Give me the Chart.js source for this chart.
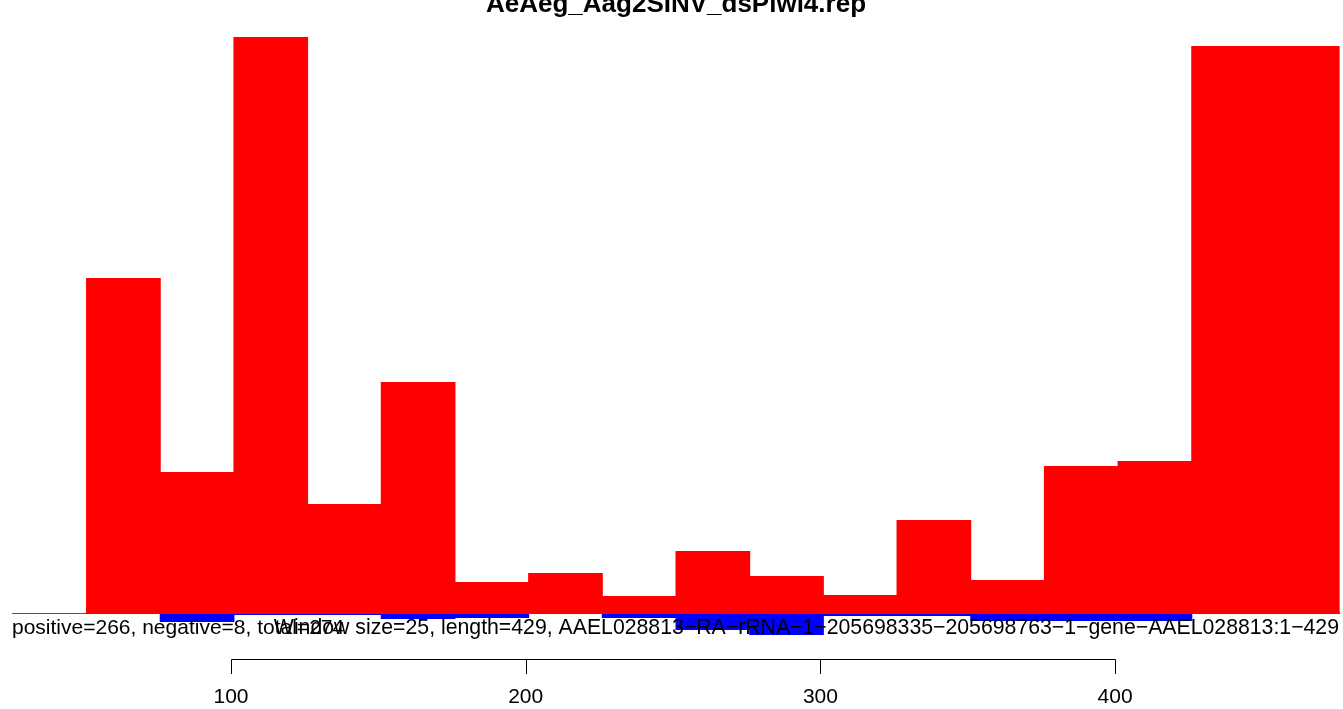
<!DOCTYPE html>
<html>
<head>
<meta charset="utf-8">
<title>AeAeg_Aag2SINV_dsPiwi4.rep</title>
<script src="https://cdn.jsdelivr.net/npm/chart.js@4"></script>
<style>
  html, body { margin: 0; padding: 0; background: #ffffff; }
  canvas { display: block; }
</style>
</head>
<body>
<canvas id="coverageChart" width="1343" height="709"></canvas>
<script>
// Dữ liệu (cửa sổ 25 nt, bắt đầu tại vị trí 51)
const binStarts = [51, 76, 101, 126, 151, 176, 201, 226, 251, 276, 301, 326, 351, 376, 401, 426, 451];
const binSize = 25;
const positiveCounts = [334, 140, 576, 108, 230, 30, 39, 16, 61, 36, 17, 92, 32, 146, 151, 566, 566];
const negativeCounts = [0, -8, -1, -1, -5, -4, 0, -4, -16, -21, -2, -2, -7, -7, -7, 0, 0];
const xTicks = [100, 200, 300, 400];

const chartTitle = "AeAeg_Aag2SINV_dsPiwi4.rep";
const summaryText = "positive=266, negative=8, total=274";
const infoText = "Window size=25, length=429, AAEL028813\u2212RA\u2212rRNA\u22121\u2212205698335\u2212205698763\u22121\u2212gene\u2212AAEL028813:1\u2212429";

const FONT = '"Liberation Sans", Arial, Helvetica, sans-serif';

document.addEventListener("DOMContentLoaded", function () {
  const canvas = document.getElementById("coverageChart");

  // Đường 0, trục x kiểu R và các dòng chữ
  const rStylePlugin = {
    id: "rStyle",
    beforeDatasetsDraw(chart) {
      const ctx = chart.ctx;
      const area = chart.chartArea;
      const y0 = Math.round(chart.scales.y.getPixelForValue(0)) + 0.5;
      ctx.save();
      ctx.strokeStyle = "#555555";
      ctx.lineWidth = 1;
      ctx.beginPath();
      ctx.moveTo(area.left, y0);
      ctx.lineTo(area.right, y0);
      ctx.stroke();
      ctx.restore();
    },
    afterDraw(chart) {
      const ctx = chart.ctx;
      const xs = chart.scales.x;
      ctx.save();

      // tiêu đề
      ctx.fillStyle = "#000000";
      ctx.font = "bold 26px " + FONT;
      ctx.textAlign = "center";
      ctx.textBaseline = "alphabetic";
      ctx.fillText(chartTitle, 676, 12);

      // trục x
      const axisY = 659.5;
      const first = Math.round(xs.getPixelForValue(xTicks[0])) + 0.5;
      const last = Math.round(xs.getPixelForValue(xTicks[xTicks.length - 1])) + 0.5;
      ctx.strokeStyle = "#000000";
      ctx.lineWidth = 1;
      ctx.beginPath();
      ctx.moveTo(first, axisY);
      ctx.lineTo(last, axisY);
      xTicks.forEach(function (t) {
        const px = Math.round(xs.getPixelForValue(t)) + 0.5;
        ctx.moveTo(px, axisY);
        ctx.lineTo(px, 674);
      });
      ctx.stroke();

      ctx.font = "21px " + FONT;
      xTicks.forEach(function (t) {
        ctx.fillText(String(t), xs.getPixelForValue(t), 703);
      });

      // dòng chữ dưới đường 0 (chồng lên nhau như bản gốc)
      ctx.textAlign = "left";
      ctx.fillText(summaryText, 12, 634);
      ctx.font = "21.25px " + FONT;
      ctx.textAlign = "right";
      ctx.fillText(infoText, 1339, 634);

      ctx.restore();
    },
  };

  new Chart(canvas, {
    type: "bar",
    data: {
      datasets: [
        {
          label: "positive",
          data: binStarts.map(function (s, i) {
            return { x: s + binSize / 2, y: positiveCounts[i] };
          }),
          backgroundColor: "#FF0000",
          borderWidth: 0,
          inflateAmount: 1,
          barPercentage: 1.015,
          categoryPercentage: 1,
          grouped: false,
        },
        {
          label: "negative",
          data: binStarts.map(function (s, i) {
            return { x: s + binSize / 2, y: negativeCounts[i] };
          }),
          backgroundColor: "#0000FF",
          borderWidth: 0,
          inflateAmount: 1,
          barPercentage: 1.015,
          categoryPercentage: 1,
          grouped: false,
        },
      ],
    },
    options: {
      responsive: false,
      animation: false,
      devicePixelRatio: 1,
      layout: { padding: { left: 12, right: 3, top: 37, bottom: 69 } },
      plugins: {
        legend: { display: false },
        tooltip: { enabled: false },
      },
      scales: {
        x: { type: "linear", min: 25.7, max: 476.3, offset: false, display: false },
        y: { min: -27, max: 576, display: false },
      },
    },
    plugins: [rStylePlugin],
  });
});
</script>
</body>
</html>
